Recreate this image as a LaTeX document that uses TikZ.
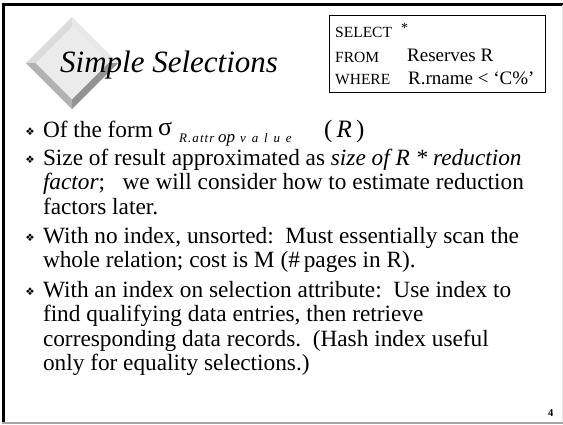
\documentclass[tikz,border=0pt]{standalone}
\usepackage{fontspec}
\setmainfont{Liberation Serif}
\newfontfamily\dejavu{DejaVu Sans}
\newcommand\bodyfs{\fontsize{23.3}{27}\selectfont}
\newcommand\sqlkw{\fontsize{15.5}{18}\selectfont}
\newcommand\sqlval{\fontsize{19}{22}\selectfont}
\newcommand\subfs{\fontsize{13}{14}\selectfont\itshape}
\tikzset{
  txt/.style={anchor=base west, inner sep=0pt, outer sep=0pt, font=\bodyfs},
  bul/.style={anchor=center, inner sep=0pt, font=\dejavu\fontsize{10.5}{10.5}\selectfont},
  sqlk/.style={anchor=base west, inner sep=0pt, font=\sqlkw},
  sqlv/.style={anchor=base west, inner sep=0pt, font=\sqlval},
  subpart/.style={anchor=base west, inner sep=0pt},
}
\begin{document}
\begin{tikzpicture}[x=1pt,y=-1pt]
\useasboundingbox (0,0) rectangle (563,424);
\fill[white] (0,0) rectangle (563,424);
% frame
\draw[black, line width=3pt] (3.5,424) -- (3.5,4.5) -- (563,4.5);
\draw[gray!70, line width=2pt] (2,422.5) -- (563,422.5);
\draw[gray!20, line width=1pt] (562,5) -- (562,422);
% bevelled diamond
\coordinate (dT) at (72,17);
\coordinate (dR) at (118,63);
\coordinate (dB) at (72,109);
\coordinate (dL) at (26,63);
\coordinate (iT) at (72,27);
\coordinate (iR) at (108,63);
\coordinate (iB) at (72,99);
\coordinate (iL) at (36,63);
\fill[black!14] (dT) -- (dL) -- (iL) -- (iT) -- cycle;
\fill[black!9] (dT) -- (dR) -- (iR) -- (iT) -- cycle;
\fill[black!42] (dR) -- (dB) -- (iB) -- (iR) -- cycle;
\fill[black!30] (dB) -- (dL) -- (iL) -- (iB) -- cycle;
\fill[black!8] (iT) -- (iR) -- (iB) -- (iL) -- cycle;
% title
\node[anchor=base west, inner sep=0pt, font=\fontsize{31}{36}\selectfont\itshape] (title) at (60,72) {Simple Selections};
% SQL box
\node[draw=black, line width=1pt, minimum width=216pt, minimum height=77pt, inner sep=0pt, anchor=north west] (sqlbox) at (329,15) {};
\node[sqlk] (sel) at (335,37) {SELECT};
\node[anchor=base west, inner sep=0pt, font=\fontsize{14}{14}\selectfont] (star) at (401,32) {*};
\node[sqlk] (from) at (335,62) {FROM};
\node[sqlv] (resv) at (407,61) {Reserves R};
\node[sqlk] (where) at (335,84) {WHERE};
\node[sqlv] (cond) at (408,84) {R.rname < ‘C\%’};
% bullets
\node[bul] (b1) at (30,132) {❖};
\node[bul] (b2) at (30,160) {❖};
\node[bul] (b3) at (30,238) {❖};
\node[bul] (b4) at (30,292) {❖};
% text lines
\node[txt] (l1) at (43,137) {Of the form};
\node[anchor=base west, inner sep=0pt, font=\fontsize{26}{28}\selectfont] (sig) at (158,135) {σ};
\node[subpart] (sub1) at (179,142) {\subfs\addfontfeature{LetterSpace=8}R.attr};
\node[subpart] (sub2) at (218,142) {\fontsize{17}{17}\selectfont\itshape op};
\node[subpart] (sub3) at (240,142) {\subfs\addfontfeature{LetterSpace=45}value};
\node[anchor=base west, inner sep=0pt, font=\fontsize{25}{28}\selectfont] (parR) at (324,137) {(\,\textit{R}\,)};
\node[txt] (l2) at (43,165) {Size of result approximated as \textit{size of R * reduction}};
\node[txt] (l3) at (43,189.5) {\textit{factor};\hspace{0.5em} we will consider how to estimate reduction};
\node[txt] (l4) at (43,214) {factors later.};
\node[txt] (l5) at (43,243) {With no index, unsorted:\hspace{0.5em}Must essentially scan the};
\node[txt] (l6) at (43,267.5) {whole relation; cost is M (\#\,pages in R).};
\node[txt] (l7) at (43,297) {With an index on selection attribute:\hspace{0.5em}Use index to};
\node[txt] (l8) at (43,321.5) {find qualifying data entries, then retrieve};
\node[txt] (l9) at (43,346) {corresponding data records.\hspace{0.5em}(Hash index useful};
\node[txt] (l10) at (43,370.5) {only for equality selections.)};
% page number
\node[anchor=base west, inner sep=0pt, font=\fontsize{10.5}{12}\selectfont\bfseries] (pg) at (548,416) {4};
\end{tikzpicture}
\end{document}
